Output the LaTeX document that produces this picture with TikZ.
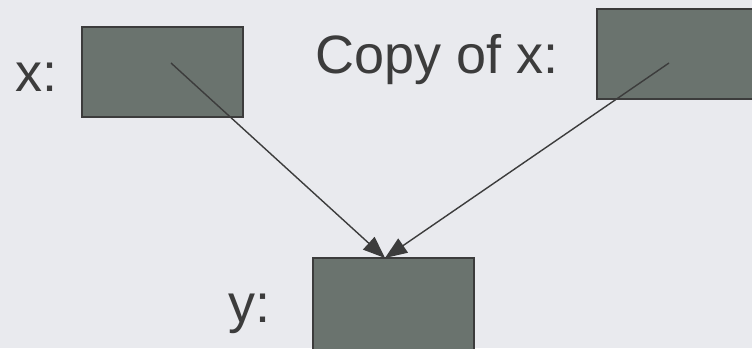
\documentclass[tikz,border=0pt]{standalone}
\usepackage{fontspec}
\setmainfont{Liberation Sans}
\usetikzlibrary{arrows.meta}
\definecolor{bg}{HTML}{E9EAEE}
\definecolor{boxfill}{HTML}{6A736E}
\definecolor{ink}{HTML}{3C3C3C}
\tikzset{
  varbox/.style={draw=ink, line width=1.5pt, fill=boxfill, rectangle, inner sep=0pt},
  lbl/.style={text=ink, anchor=base west, inner sep=0pt, font=\fontsize{54}{60}\selectfont},
  ptrtip/.tip={Triangle[length=22pt,width=17pt,fill=ink]},
  ptr/.style={draw=ink, line width=1.4pt, arrows={-ptrtip}}
}
\begin{document}
\begin{tikzpicture}[x=1pt,y=-1pt]
\useasboundingbox (0,0) rectangle (752,348);
\clip (0,0) rectangle (752,348);
\fill[bg] (0,0) rectangle (752,348);
\node[varbox, minimum width=161pt, minimum height=90pt] (xbox) at (162.5,72) {};
\node[varbox, minimum width=160pt, minimum height=90pt] (cbox) at (677,54) {};
\node[varbox, minimum width=161pt, minimum height=94pt] (ybox) at (393.5,305) {};
\node[lbl] (xl) at (15,91) {x:};
\node[lbl] (cl) at (315,73) {Copy of x:};
\node[lbl] (yl) at (228,322) {y:};
\coordinate (xs) at (171,63);
\coordinate (cs) at (669,63);
\coordinate (yt) at (385,258);
\draw[ptr] (xs) -- (yt);
\draw[ptr] (cs) -- (yt);
\end{tikzpicture}
\end{document}
